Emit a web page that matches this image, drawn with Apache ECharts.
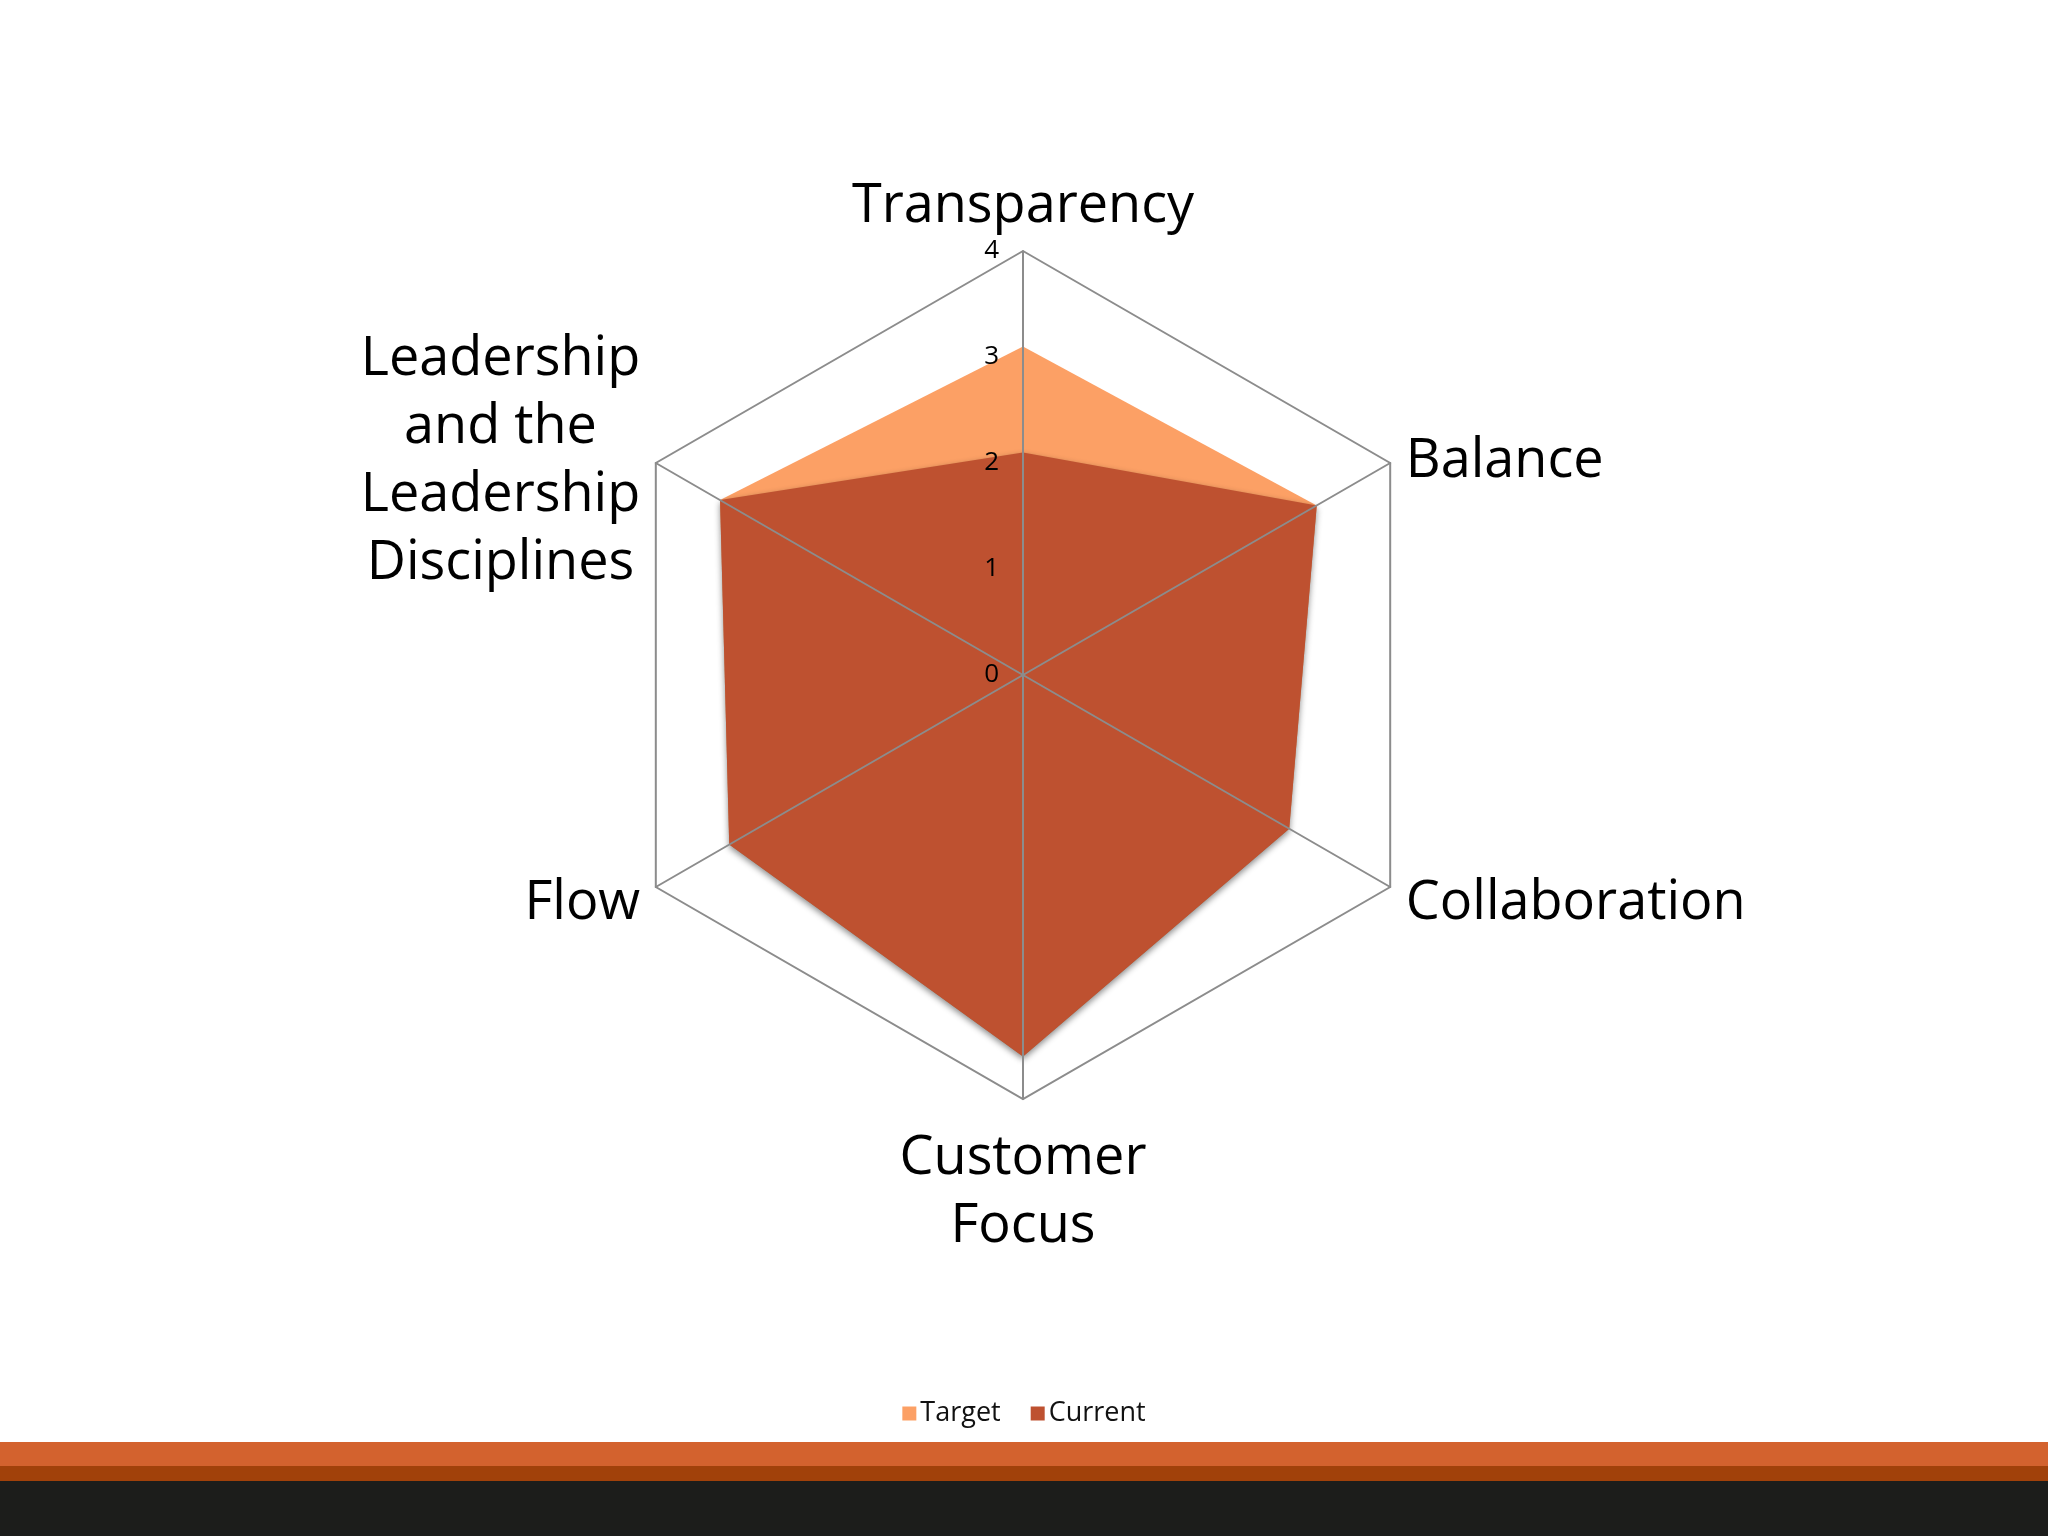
<!DOCTYPE html>
<html>
<head>
<meta charset="utf-8">
<script src="https://cdn.jsdelivr.net/npm/echarts@6/dist/echarts.min.js"></script>
<style>
html,body{margin:0;padding:0;background:#fff;}
#chart{width:2048px;height:1536px;}
</style>
</head>
<body>
<div id="chart"></div>
<script>
// Indicators listed counterclockwise starting from the top
var categories = ['Transparency', 'Leadership\nand the\nLeadership\nDisciplines', 'Flow', 'Customer\nFocus', 'Collaboration', 'Balance'];
var targetValues = [3.1, 3.3, 3.2, 3.6, 2.9, 3.2];
var currentValues = [2.1, 3.3, 3.2, 3.6, 2.9, 3.2];
var seriesNames = ['Target', 'Current'];
var axisMax = 4;
var axisSplit = 4;

var chart = echarts.init(document.getElementById('chart'), null, {renderer: 'canvas'});
var FONT = '"Open Sans", "Noto Sans", sans-serif';

var indicators = categories.map(function (c, i) {
  var ind = {name: c, min: 0, max: axisMax};
  if (i === 0) {
    ind.axisLabel = {show: true};
  }
  return ind;
});

var option = {
  backgroundColor: '#ffffff',
  animation: false,
  legend: {
    data: seriesNames,
    left: 'center',
    top: 1395,
    icon: 'rect',
    itemWidth: 14,
    itemHeight: 14,
    itemGap: 30,
    textStyle: {fontSize: 27, color: '#111', fontFamily: FONT, padding: [0, 0, 0, -1]}
  },
  radar: {
    z: 3,
    center: [1023, 675],
    radius: 424,
    startAngle: 90,
    shape: 'polygon',
    splitNumber: axisSplit,
    indicator: indicators,
    axisName: {
      color: '#000',
      fontFamily: FONT,
      fontSize: 54,
      lineHeight: 68,
      padding: [8, 0, -8, 0],
      formatter: function (name) {
        return name.split('\n').map(function (l) { return '{c|' + l + '}'; }).join('\n');
      },
      rich: {
        c: {align: 'center', fontSize: 54, lineHeight: 68, fontFamily: FONT, color: '#000'}
      }
    },
    nameGap: 18,
    axisLine: {show: true, lineStyle: {color: '#8c8c8c', width: 2}},
    splitLine: {show: true, lineStyle: {color: ['transparent', 'transparent', 'transparent', 'transparent', '#8c8c8c'], width: 2}},
    splitArea: {show: false},
    axisTick: {show: false},
    axisLabel: {show: false, color: '#000', fontSize: 26, fontFamily: FONT, margin: 24, padding: [8, 0, 0, 0]}
  },
  series: [{
    type: 'radar',
    z: 1,
    symbol: 'none',
    data: [
      {
        name: seriesNames[0],
        value: targetValues,
        itemStyle: {color: '#FCA065'},
        lineStyle: {width: 0, color: '#FCA065'},
        areaStyle: {color: '#FCA065', opacity: 1}
      },
      {
        name: seriesNames[1],
        value: currentValues,
        itemStyle: {color: '#BE5130'},
        lineStyle: {width: 0, color: '#BE5130'},
        areaStyle: {color: '#BE5130', opacity: 1, shadowColor: 'rgba(0,0,0,0.45)', shadowBlur: 6, shadowOffsetX: 0, shadowOffsetY: 3}
      }
    ]
  }],
  graphic: [
    {type: 'rect', left: 0, top: 1442, shape: {width: 2048, height: 24}, style: {fill: '#D3622E'}, silent: true},
    {type: 'rect', left: 0, top: 1466, shape: {width: 2048, height: 15}, style: {fill: '#A1410A'}, silent: true},
    {type: 'rect', left: 0, top: 1481, shape: {width: 2048, height: 55}, style: {fill: '#1C1D1B'}, silent: true}
  ]
};
chart.setOption(option);
</script>
</body>
</html>
